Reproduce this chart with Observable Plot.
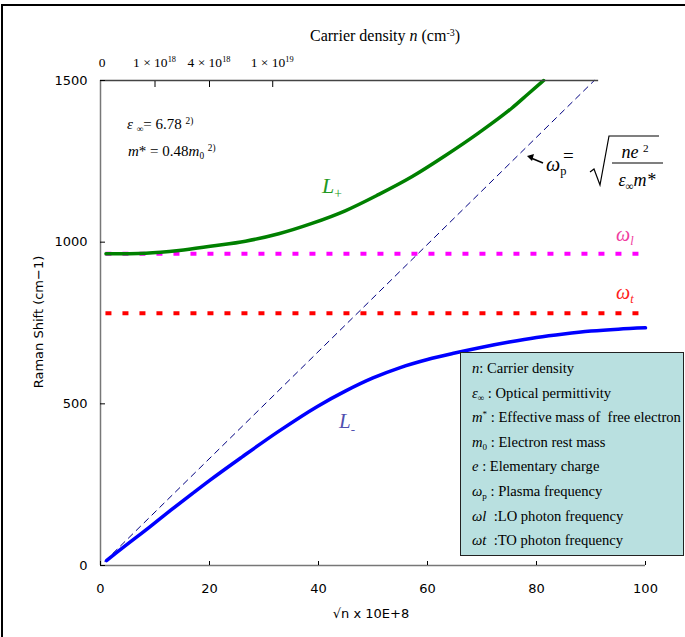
<!DOCTYPE html>
<html><head><meta charset="utf-8">
<script src="https://cdn.jsdelivr.net/npm/d3@7"></script>
<script src="https://cdn.jsdelivr.net/npm/@observablehq/plot@0.6"></script>
<style>
html,body{margin:0;padding:0;background:#fff;overflow:hidden;}
#wrap{position:relative;width:685px;height:637px;overflow:hidden;}
.ov{position:absolute;font-family:"Liberation Serif","Times New Roman",serif;white-space:nowrap;line-height:1;color:#000;}
.sans{font-family:"DejaVu Sans",sans-serif;}
.sb{position:relative;font-size:0.62em;top:0.35em;}
.sp{position:relative;font-size:0.62em;top:-0.55em;}
#frame{position:absolute;left:1px;top:4px;width:900px;height:900px;border-left:2px solid #000;border-top:2px solid #000;}
#legend{position:absolute;left:460px;top:352px;width:222px;height:202px;background:#b9e0e0;border:1.5px solid #222;}
#legend div{position:absolute;left:11px;font-family:"Liberation Serif","Times New Roman",serif;font-size:14.6px;line-height:1;white-space:nowrap;}
</style></head><body><div id="wrap"><div id="frame"></div></div>
<script>
// ---- data ----
const xTicks = [0, 20, 40, 60, 80, 100];
const yTicks = [0, 500, 1000, 1500];
const topTicks = [10, 20, 31.6];
const topLabelX = [0, 10, 20, 31.6];
const topLabelText = ["0", "1 × 10<span class='sp'>18</span>", "4 × 10<span class='sp'>18</span>", "1 × 10<span class='sp'>19</span>"];

const lPlusX = [1.0, 8.3, 14.4, 20.5, 26.6, 32.7, 38.8, 44.9, 51.0, 57.2, 63.3, 69.4, 75.5, 78.5, 81.3];
const lPlusY = [964, 966, 974, 988, 1003, 1026, 1058, 1097, 1147, 1203, 1268, 1338, 1415, 1459, 1500];

const lMinusX = [1.1, 3.1, 9.0, 12.9, 16.9, 20.1, 26.0, 32.6, 39.8, 45, 50, 55, 60, 65, 70, 75, 80, 85, 90, 95, 100];
const lMinusY = [15, 42, 119, 171, 223, 264, 336, 414, 492, 540, 580, 612, 637, 657, 675, 691, 705, 716, 725, 731, 735];

const plasmaX = [0.8, 90.6];
const plasmaY = [13, 1500];

const omegaL = 964;
const omegaT = 780;
const refSpanX = [1, 100];

const legendLines = [
  "<i>n</i>: Carrier density",
  "<i>ε</i><span class='sb'>∞</span> : Optical permittivity",
  "<i>m</i><span class='sp'>*</span> : Effective mass of &nbsp;free electron",
  "<i>m</i><span class='sb'>0</span> : Electron rest mass",
  "<i>e</i> : Elementary charge",
  "<i>ω</i><span class='sb'>p</span> : Plasma frequency",
  "<i>ωl</i> &nbsp;:LO photon frequency",
  "<i>ωt</i> &nbsp;:TO photon frequency"
];

// ---- chart ----
const pts = (xs, ys) => xs.map((x, i) => ({x, y: ys[i]}));

const plot = Plot.plot({
  width: 685, height: 637,
  marginLeft: 100, marginRight: 40, marginTop: 80, marginBottom: 72,
  x: {domain: [0, 100], axis: null},
  y: {domain: [0, 1500], axis: null},
  style: {fontFamily: "DejaVu Sans, sans-serif", fontSize: "13px", background: "transparent", color: "#000"},
  marks: [
    Plot.ruleY([omegaL], {x1: refSpanX[0], x2: refSpanX[1], stroke: "#ff00ff", strokeWidth: 4, strokeDasharray: "6,11"}),
    Plot.ruleY([omegaT], {x1: refSpanX[0], x2: refSpanX[1], stroke: "#ff0000", strokeWidth: 4, strokeDasharray: "6,11"}),
    Plot.line(pts(plasmaX, plasmaY), {x: "x", y: "y", stroke: "#000080", strokeWidth: 1, strokeDasharray: "6,5"}),
    Plot.line(pts(lPlusX, lPlusY), {x: "x", y: "y", stroke: "#008000", strokeWidth: 3.5, curve: "monotone-x"}),
    Plot.line(pts(lMinusX, lMinusY), {x: "x", y: "y", stroke: "#0000ff", strokeWidth: 3.5, curve: "monotone-x"}),
    Plot.ruleX([xTicks[0]], {stroke: "#777", strokeWidth: 1.5}),
    Plot.ruleY([yTicks[0]], {stroke: "#777", strokeWidth: 1.5}),
    Plot.ruleY([yTicks[yTicks.length - 1]], {x1: xTicks[0], x2: plasmaX[1] + 0.8, stroke: "#444", strokeWidth: 1.5}),
    Plot.axisX(xTicks, {tickSize: -4, tickPadding: 22, label: null, tickFormat: d => String(d)}),
    Plot.axisY(yTicks, {tickSize: -5, tickPadding: 18, label: null, tickFormat: d => String(d)}),
    Plot.axisX(topTicks, {anchor: "top", tickSize: -6, tickFormat: () => "", label: null})
  ]
});
const wrap = document.getElementById("wrap");
plot.style.position = "absolute";
plot.style.left = "0px";
plot.style.top = "0px";
wrap.appendChild(plot);

const sx = plot.scale("x");

function ov(html, left, top, style, cls) {
  const d = document.createElement("div");
  d.className = "ov" + (cls ? " " + cls : "");
  d.innerHTML = html;
  d.style.left = left + "px";
  d.style.top = top + "px";
  if (style) d.setAttribute("style", d.getAttribute("style") + ";" + style);
  wrap.appendChild(d);
  return d;
}

// top title
ov("Carrier density <i>n</i> (cm<span class='sp'>-3</span>)", 385, 28, "font-size:16px;transform:translateX(-50%)");
// top tick labels
topLabelX.forEach((v, i) => {
  ov(topLabelText[i], sx.apply(v) + (i === 0 ? 2 : 0), 56, "font-size:13.5px;transform:translateX(-50%)");
});
// axis titles
ov("Raman Shift (cm−1)", 38, 322, "font-size:13px;transform:translate(-50%,-50%) rotate(-90deg)", "sans");
ov("√n x 10E+8", 371, 613, "font-size:13px;transform:translate(-50%,-50%)", "sans");

// constants
ov("<i>ε</i> <span class='sb'>∞</span>= 6.78 <span class='sp'>2)</span>", 127, 117, "font-size:15px");
ov("<i>m</i>* = 0.48<i>m</i><span class='sb'>0</span> <span class='sp'>2)</span>", 128, 144, "font-size:15px");

// curve labels
ov("<i>L</i><span class='sb'>+</span>", 322, 175, "font-size:22px;color:#229922");
ov("<i>L</i><span class='sb'>-</span>", 339, 411, "font-size:21px;color:#5050b0");
ov("<i>ω</i><span class='sb'><i>l</i></span>", 616, 224, "font-size:20px;color:#f03ca0");
ov("<i>ω</i><span class='sb'><i>t</i></span>", 616, 282, "font-size:20px;color:#ff2020");

// plasma frequency formula
ov("<i>ω</i><span class='sb'>p</span>", 546, 154, "font-size:20px");
ov("=", 563, 146, "font-size:19px");
ov("<i>ne</i> <span class='sp'>2</span>", 635, 143, "font-size:18px;transform:translateX(-50%)");
ov("<i>ε</i><span class='sb'>∞</span><i>m*</i>", 637, 171, "font-size:18px;transform:translateX(-50%)");
const ns = "http://www.w3.org/2000/svg";
const deco = document.createElementNS(ns, "svg");
deco.setAttribute("width", 685); deco.setAttribute("height", 637);
deco.style.position = "absolute"; deco.style.left = "0"; deco.style.top = "0";
deco.innerHTML = `
  <path d="M590,172 L594,169 L600,185 L609,136 H659" fill="none" stroke="#000" stroke-width="1.2"/>
  <path d="M612,163 H663" stroke="#000" stroke-width="1.1"/>
  <path d="M543,163 L531,158" stroke="#000" stroke-width="1.5"/>
  <path d="M527,156 L534,154 L532,161 Z" fill="#000"/>`;
wrap.appendChild(deco);

// legend box
const lg = document.createElement("div");
lg.id = "legend";
legendLines.forEach((t, i) => {
  const d = document.createElement("div");
  d.innerHTML = t;
  d.style.top = (8 + i * 24.6) + "px";
  lg.appendChild(d);
});
wrap.appendChild(lg);
</script>
</body></html>
